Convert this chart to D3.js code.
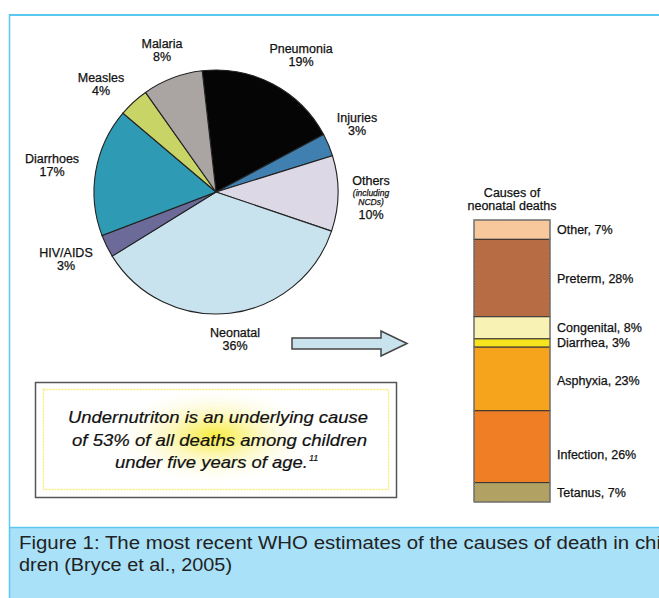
<!DOCTYPE html>
<html lang="en">
<head>
<meta charset="UTF-8">
<title>Causes of death in children</title>
<script src="https://d3js.org/d3.v7.min.js"></script>
<style>
  body { margin: 0; background: #fff; }
  svg { display: block; font-family: "Liberation Sans", Arial, sans-serif; }
</style>
</head>
<body>
<svg id="chart" width="659" height="598"></svg>
<script>
// pie data (clockwise from Pneumonia)
const pieCauses = ["Pneumonia", "Injuries", "Others", "Neonatal", "HIV/AIDS", "Diarrhoes", "Measles", "Malaria"];
const pieValues = [19, 3, 10, 36, 3, 17, 4, 8];
const pieColors = ["#050505", "#3f80b0", "#ddd8e6", "#c9e3ee", "#6c6a98", "#2e9ab3", "#c9d466", "#aaa5a2"];

// neonatal stacked bar (top to bottom)
const neoCauses = ["Other", "Preterm", "Congenital", "Diarrhea", "Asphyxia", "Infection", "Tetanus"];
const neoValues = [7, 28, 8, 3, 23, 26, 7];
const neoColors = ["#f7c89c", "#b86c44", "#f8f3b4", "#f7e41c", "#f5a41c", "#f07e24", "#b1a263"];

const svg = d3.select("#chart");

// page frame
svg.append("rect").attr("x", 9).attr("y", 528).attr("width", 650).attr("height", 70).attr("fill", "#a9e1f8");
svg.append("line").attr("x1", 9).attr("x2", 659).attr("y1", 15).attr("y2", 15).attr("stroke", "#5bc8f0").attr("stroke-width", 2);
svg.append("line").attr("x1", 9).attr("x2", 659).attr("y1", 527.5).attr("y2", 527.5).attr("stroke", "#5bc8f0").attr("stroke-width", 1.5);
svg.append("line").attr("x1", 9.5).attr("x2", 9.5).attr("y1", 14).attr("y2", 598).attr("stroke", "#5bc8f0").attr("stroke-width", 1.5);

// ---- pie ----
const cx = 216, cy = 192, r = 122;
const pie = d3.pie().sort(null)
  .startAngle(-6.5 * Math.PI / 180)
  .endAngle(2 * Math.PI - 6.5 * Math.PI / 180);
const arc = d3.arc().innerRadius(0).outerRadius(r);
const arcs = pie(pieValues);

const gPie = svg.append("g").attr("transform", `translate(${cx},${cy})`);
gPie.selectAll("path")
  .data(arcs)
  .join("path")
  .attr("d", arc)
  .attr("fill", (d, i) => pieColors[i])
  .attr("stroke", "#222")
  .attr("stroke-width", 1.1);

// pie label anchors (centre of the name line)
const pieLabelPos = [[301, 49], [357, 118], [371, 181], [235, 333], [66, 253], [52, 159], [101, 78], [162, 44]];
const gLab = svg.append("g").attr("font-size", 12.5).attr("fill", "#111")
  .attr("stroke", "#111").attr("stroke-width", 0.25).attr("text-anchor", "middle");
pieCauses.forEach((name, i) => {
  const [x, y] = pieLabelPos[i];
  const t = gLab.append("text").attr("x", x).attr("y", y + 4);
  if (name === "Others") {
    t.append("tspan").attr("x", x).text("Others");
    t.append("tspan").attr("x", x).attr("dy", 11).attr("font-size", 8.5).attr("font-style", "italic").text("(including");
    t.append("tspan").attr("x", x).attr("dy", 8.5).attr("font-size", 8.5).attr("font-style", "italic").text("NCDs)");
    t.append("tspan").attr("x", x).attr("dy", 14).text(pieValues[i] + "%");
  } else {
    t.append("tspan").attr("x", x).text(name);
    t.append("tspan").attr("x", x).attr("dy", 13).text(pieValues[i] + "%");
  }
});

// ---- arrow ----
const arrowPts = [[292, 338], [381, 338], [381, 331], [407, 343.5], [381, 356], [381, 349], [292, 349]];
svg.append("path")
  .attr("d", d3.line()(arrowPts) + "Z")
  .attr("fill", "#c9e3ee")
  .attr("stroke", "#444")
  .attr("stroke-width", 1.5);

// ---- stacked bar ----
const barX = 474, barW = 76;
const y = d3.scaleLinear().domain([0, d3.sum(neoValues)]).range([220, 502]);
let acc = 0;
const segs = neoValues.map((v, i) => { const s = { i, y0: acc, y1: acc + v }; acc += v; return s; });

const gBar = svg.append("g");
gBar.selectAll("rect")
  .data(segs)
  .join("rect")
  .attr("x", barX)
  .attr("y", d => y(d.y0))
  .attr("width", barW)
  .attr("height", d => y(d.y1) - y(d.y0))
  .attr("fill", d => neoColors[d.i])
  .attr("stroke", "#333")
  .attr("stroke-width", 1);
gBar.append("rect")
  .attr("x", barX).attr("y", y(0)).attr("width", barW).attr("height", y(acc) - y(0))
  .attr("fill", "none").attr("stroke", "#8a8a8a").attr("stroke-width", 1.5).attr("stroke-dasharray", "1.5,1");

const labelDy = [0, 0, 0, -1, 2, 8, 0];
gBar.selectAll("text.lab")
  .data(segs)
  .join("text")
  .attr("class", "lab")
  .attr("x", 557)
  .attr("y", d => (y(d.y0) + y(d.y1)) / 2 + 4.5 + labelDy[d.i])
  .attr("font-size", 12.5)
  .attr("fill", "#111").attr("stroke", "#111").attr("stroke-width", 0.25)
  .text(d => `${neoCauses[d.i]}, ${neoValues[d.i]}%`);

const gTitle = svg.append("text").attr("text-anchor", "middle").attr("font-size", 12.5)
  .attr("fill", "#111").attr("stroke", "#111").attr("stroke-width", 0.25);
gTitle.append("tspan").attr("x", 512).attr("y", 197).text("Causes of");
gTitle.append("tspan").attr("x", 512).attr("dy", 12.5).text("neonatal deaths");

// ---- callout box ----
const defs = svg.append("defs");
const grad = defs.append("radialGradient").attr("id", "glow")
  .attr("cx", "0.5").attr("cy", "0.5").attr("r", "0.5");
grad.append("stop").attr("offset", "0%").attr("stop-color", "#f8ec40");
grad.append("stop").attr("offset", "40%").attr("stop-color", "#fcf7b8");
grad.append("stop").attr("offset", "100%").attr("stop-color", "#ffffff").attr("stop-opacity", 0);

svg.append("rect").attr("x", 35.5).attr("y", 382.5).attr("width", 361).attr("height", 115)
  .attr("fill", "#fff").attr("stroke", "#555").attr("stroke-width", 1.5);
svg.append("ellipse").attr("cx", 214).attr("cy", 436).attr("rx", 105).attr("ry", 50).attr("fill", "url(#glow)");
svg.append("rect").attr("x", 43.5).attr("y", 389.5).attr("width", 345).attr("height", 100)
  .attr("fill", "none").attr("stroke", "#f5ee80").attr("stroke-width", 1.5).attr("stroke-dasharray", "2,1");

const note = ["Undernutriton is an underlying cause", "of 53% of all deaths among children", "under five years of age."];
const noteX = [68, 72, 115];
const noteW = [300, 295, 193];
const gNote = svg.append("g").attr("font-size", 16.5).attr("font-style", "italic")
  .attr("fill", "#111").attr("stroke", "#111").attr("stroke-width", 0.2);
note.forEach((line, i) => {
  const t = gNote.append("text").attr("x", noteX[i]).attr("y", 423 + i * 22.5);
  t.append("tspan").attr("textLength", noteW[i]).attr("lengthAdjust", "spacingAndGlyphs").text(line);
  if (i === note.length - 1) t.append("tspan").attr("font-size", 9).attr("dx", 1).attr("dy", -7).text("11");
});

// ---- caption ----
const caption = ["Figure 1: The most recent WHO estimates of the causes of death in chi", "dren (Bryce et al., 2005)"];
const captionW = [642, 213];
const gCap = svg.append("g").attr("font-size", 17.5).attr("fill", "#222");
caption.forEach((line, i) => {
  gCap.append("text").attr("x", 19).attr("y", 549 + i * 22)
    .attr("textLength", captionW[i]).attr("lengthAdjust", "spacingAndGlyphs")
    .text(line);
});
</script>
</body>
</html>
